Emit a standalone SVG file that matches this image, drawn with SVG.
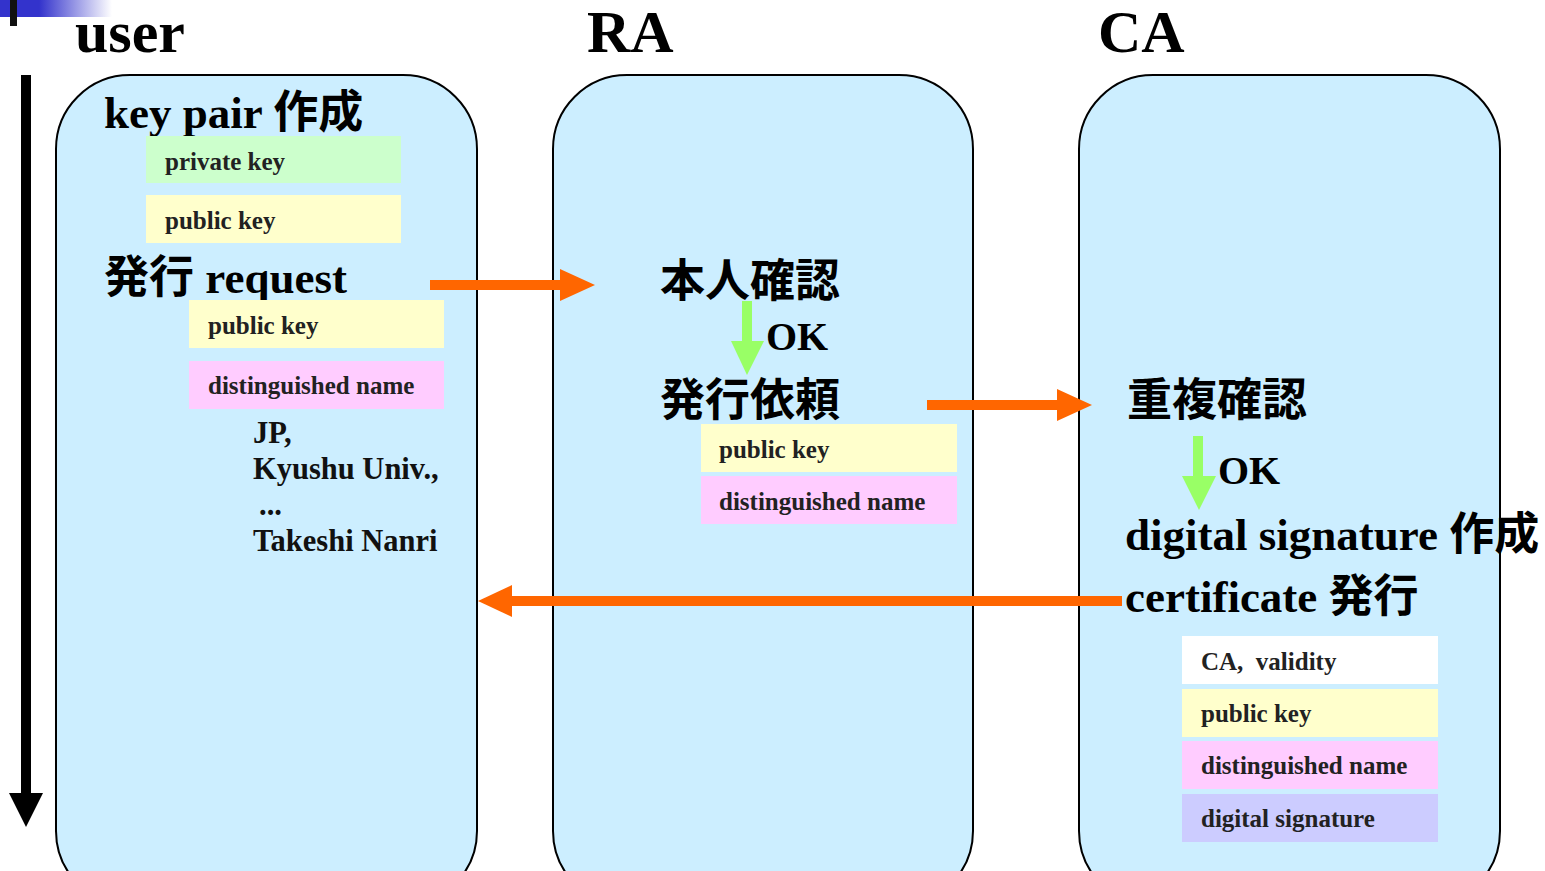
<svg xmlns="http://www.w3.org/2000/svg" width="1545" height="871" viewBox="0 0 1545 871">
  <defs>
    <linearGradient id="band" x1="0" y1="0" x2="1" y2="0">
      <stop offset="0" stop-color="#3333cc"/>
      <stop offset="0.35" stop-color="#3333cc"/>
      <stop offset="1" stop-color="#ffffff"/>
    </linearGradient>
    <style>
      .panel { fill: #cceeff; stroke: #000; stroke-width: 2; }
      .title { font-family: "Liberation Serif", "Noto Sans CJK JP", serif; font-weight: bold; font-size: 60px; fill: #000; }
      .head { font-family: "Liberation Serif", "Noto Sans CJK JP", serif; font-weight: bold; font-size: 45px; fill: #000; }
      .ok { font-family: "Liberation Serif", serif; font-weight: bold; font-size: 40px; fill: #000; }
      .dn { font-family: "Liberation Serif", serif; font-weight: bold; font-size: 30.5px; fill: #111; }
      .field { font-family: "Liberation Serif", serif; font-weight: bold; font-size: 25px; fill: #222; }
      .green { fill: #ccffcc; }
      .yellow { fill: #ffffcc; }
      .pink { fill: #ffccff; }
      .white { fill: #ffffff; }
      .violet { fill: #ccccff; }
      .orange { fill: #ff6600; }
      .okarrow { fill: #99ff66; }
    </style>
  </defs>

  <rect width="1545" height="871" fill="#ffffff"/>

  <!-- corner decoration -->
  <rect x="0" y="0" width="112" height="17" fill="url(#band)"/>
  <rect x="10" y="0" width="7" height="26" fill="#111"/>

  <!-- column titles -->
  <text class="title" x="75" y="52">user</text>
  <text class="title" x="587" y="52">RA</text>
  <text class="title" x="1098" y="52">CA</text>

  <!-- time axis -->
  <g id="timeline">
    <rect x="21" y="75" width="10" height="722" fill="#000"/>
    <polygon points="9,793 43,793 26,827" fill="#000"/>
  </g>

  <!-- user -->
  <g id="user">
    <rect class="panel" x="56" y="75" width="421" height="830" rx="74" ry="74"/>
    <text class="head" x="104" y="128">key pair 作成</text>
    <rect class="green" x="146" y="136" width="255" height="47"/>
    <text class="field" x="165" y="170">private key</text>
    <rect class="yellow" x="146" y="195" width="255" height="48"/>
    <text class="field" x="165" y="229">public key</text>
    <text class="head" x="104" y="293">発行 request</text>
    <rect class="yellow" x="189" y="300" width="255" height="48"/>
    <text class="field" x="208" y="334">public key</text>
    <rect class="pink" x="189" y="361" width="255" height="48"/>
    <text class="field" x="208" y="394">distinguished name</text>
    <text class="dn" x="253" y="443">JP,</text>
    <text class="dn" x="253" y="479">Kyushu Univ.,</text>
    <text class="dn" x="259" y="515">...</text>
    <text class="dn" x="253" y="551">Takeshi Nanri</text>
  </g>

  <!-- RA -->
  <g id="ra">
    <rect class="panel" x="553" y="75" width="420" height="830" rx="74" ry="74"/>
    <text class="head" x="660" y="297">本人確認</text>
    <rect class="okarrow" x="742" y="301" width="10" height="42"/>
    <polygon class="okarrow" points="731,341 764,341 747,375"/>
    <text class="ok" x="766" y="350">OK</text>
    <text class="head" x="660" y="416">発行依頼</text>
    <rect class="yellow" x="701" y="424" width="256" height="48"/>
    <text class="field" x="719" y="458">public key</text>
    <rect class="pink" x="701" y="476" width="256" height="48"/>
    <text class="field" x="719" y="510">distinguished name</text>
  </g>

  <!-- CA -->
  <g id="ca">
    <rect class="panel" x="1079" y="75" width="421" height="830" rx="74" ry="74"/>
    <text class="head" x="1127" y="416">重複確認</text>
    <rect class="okarrow" x="1193" y="436" width="10" height="42"/>
    <polygon class="okarrow" points="1182,476 1216,476 1199,510"/>
    <text class="ok" x="1218" y="484">OK</text>
    <text class="head" x="1125" y="550">digital signature 作成</text>
    <text class="head" x="1125" y="612">certificate 発行</text>
    <rect class="white" x="1182" y="636" width="256" height="48"/>
    <text class="field" x="1201" y="670" xml:space="preserve">CA,  validity</text>
    <rect class="yellow" x="1182" y="689" width="256" height="48"/>
    <text class="field" x="1201" y="722">public key</text>
    <rect class="pink" x="1182" y="741" width="256" height="48"/>
    <text class="field" x="1201" y="774">distinguished name</text>
    <rect class="violet" x="1182" y="794" width="256" height="48"/>
    <text class="field" x="1201" y="827">digital signature</text>
  </g>

  <!-- message flows -->
  <g id="connectors">
    <rect class="orange" x="430" y="280" width="132" height="10"/>
    <polygon class="orange" points="560,269 595,285 560,301"/>
    <rect class="orange" x="927" y="400" width="132" height="10"/>
    <polygon class="orange" points="1057,389 1092,405 1057,421"/>
    <rect class="orange" x="510" y="596" width="612" height="10"/>
    <polygon class="orange" points="512,585 478,601 512,617"/>
  </g>
</svg>
